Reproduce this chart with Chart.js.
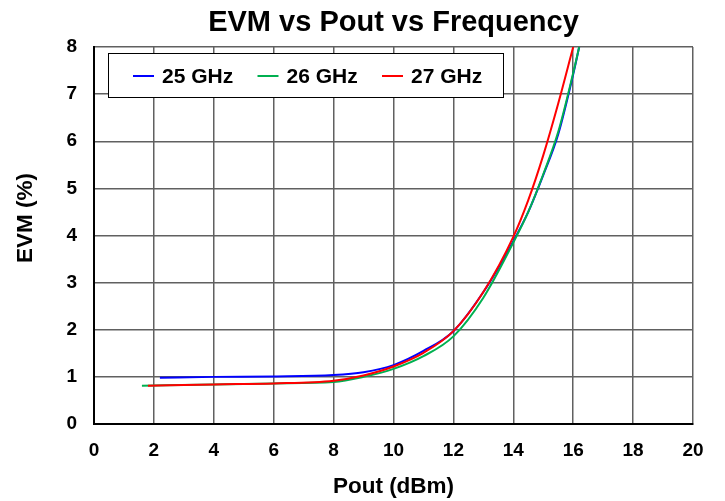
<!DOCTYPE html>
<html>
<head>
<meta charset="utf-8">
<script src="https://cdn.jsdelivr.net/npm/chart.js@4"></script>
<style>
  html, body { margin: 0; padding: 0; background: #fff; }
  #wrap { width: 725px; height: 501px; }
</style>
</head>
<body>
<div id="wrap"><canvas id="evmChart" width="725" height="501"></canvas></div>
<script>
// EVM (%) against output power (dBm), one curve per carrier frequency
const seriesNames = ['25 GHz', '26 GHz', '27 GHz'];
const seriesColors = ['#0000ff', '#00b050', '#ff0000'];

const pout25 = [2.2, 4, 6, 8, 9, 10, 11, 12, 13, 14, 14.5, 15, 15.5, 16, 16.2];
const evm25  = [0.98, 1.0, 1.01, 1.04, 1.1, 1.25, 1.55, 1.97, 2.8, 3.88, 4.5, 5.28, 6.15, 7.42, 8.0];

const pout26 = [1.6, 4, 6, 8, 9, 10, 11, 12, 13, 14, 14.5, 15, 15.5, 16, 16.2];
const evm26  = [0.81, 0.84, 0.86, 0.89, 1.0, 1.17, 1.44, 1.86, 2.68, 3.85, 4.5, 5.3, 6.2, 7.45, 8.0];

const pout27 = [1.8, 4, 6, 8, 9, 10, 11, 12, 13, 14, 14.5, 15, 15.5, 16];
const evm27  = [0.81, 0.84, 0.86, 0.92, 1.03, 1.22, 1.51, 1.97, 2.8, 3.97, 4.75, 5.7, 6.8, 8.0];

const xTicks = [0, 2, 4, 6, 8, 10, 12, 14, 16, 18, 20];
const yTicks = [0, 1, 2, 3, 4, 5, 6, 7, 8];

const toPoints = (xs, ys) => xs.map((x, i) => ({x: x, y: ys[i]}));
const allPout = [pout25, pout26, pout27];
const allEvm = [evm25, evm26, evm27];

const FONT = 'Liberation Sans, Arial, Helvetica, sans-serif';

// boxed legend drawn inside the plot area, near the top-left corner
const insideLegend = {
  id: 'insideLegend',
  afterDraw(chart) {
    const ctx = chart.ctx;
    const a = chart.chartArea;
    const left = a.left + 14, top = a.top + 6, w = 395, h = 44;
    ctx.save();
    ctx.fillStyle = '#fff';
    ctx.fillRect(left, top, w, h);
    ctx.strokeStyle = '#000';
    ctx.lineWidth = 1;
    ctx.strokeRect(left + 0.5, top + 0.5, w, h);
    ctx.font = 'bold 21px ' + FONT;
    ctx.textBaseline = 'middle';
    const cy = top + h / 2 + 1;
    chart.data.datasets.forEach((ds, i) => {
      const x0 = left + 25 + i * 124.5;
      ctx.strokeStyle = ds.borderColor;
      ctx.lineWidth = 2;
      ctx.beginPath();
      ctx.moveTo(x0, cy);
      ctx.lineTo(x0 + 21, cy);
      ctx.stroke();
      ctx.fillStyle = '#000';
      ctx.fillText(ds.label, x0 + 29, cy + 1);
    });
    ctx.restore();
  }
};

// rotated y axis title, set a little above the middle of the axis
const yAxisTitle = {
  id: 'yAxisTitle',
  afterDraw(chart) {
    const ctx = chart.ctx;
    ctx.save();
    ctx.translate(26, 218);
    ctx.rotate(-Math.PI / 2);
    ctx.font = 'bold 22.5px ' + FONT;
    ctx.fillStyle = '#000';
    ctx.textAlign = 'center';
    ctx.textBaseline = 'middle';
    ctx.fillText('EVM (%)', 0, 0);
    ctx.restore();
  }
};

new Chart(document.getElementById('evmChart'), {
  type: 'scatter',
  data: {
    datasets: seriesNames.map((name, i) => ({
      label: name,
      data: toPoints(allPout[i], allEvm[i]),
      showLine: true,
      borderColor: seriesColors[i],
      backgroundColor: seriesColors[i],
      borderWidth: 2,
      pointRadius: 0,
      order: 3 - i,
      cubicInterpolationMode: 'monotone'
    }))
  },
  options: {
    responsive: false,
    animation: false,
    layout: { padding: { top: 4, right: 32, left: 4, bottom: 1 } },
    plugins: {
      legend: { display: false },
      tooltip: { enabled: false },
      title: {
        display: true,
        fullSize: false,
        text: 'EVM vs Pout vs Frequency',
        color: '#000',
        font: { family: FONT, size: 29, weight: 'bold' },
        padding: { top: 1.1, bottom: 7.1 }
      }
    },
    scales: {
      x: {
        type: 'linear',
        min: 0, max: 20,
        afterBuildTicks: s => { s.ticks = xTicks.map(v => ({value: v})); },
        afterFit: s => { s.height = 76; },
        grid: { color: '#606060', lineWidth: 1.5, drawTicks: false },
        border: { display: true, color: '#000', width: 2 },
        ticks: { color: '#000', padding: 15, font: { family: FONT, size: 19, weight: 'bold' } },
        title: {
          display: true, text: 'Pout (dBm)', color: '#000',
          font: { family: FONT, size: 22.5, weight: 'bold' },
          padding: { top: 8, bottom: 0 }
        }
      },
      y: {
        type: 'linear',
        min: 0, max: 8,
        afterBuildTicks: s => { s.ticks = yTicks.map(v => ({value: v})); },
        afterFit: s => { s.width = 90; },
        grid: { color: '#606060', lineWidth: 1.5, drawTicks: false },
        border: { display: true, color: '#000', width: 2 },
        ticks: { color: '#000', padding: 17, font: { family: FONT, size: 19, weight: 'bold' } },
        title: { display: false }
      }
    }
  },
  plugins: [insideLegend, yAxisTitle]
});
</script>
</body>
</html>
